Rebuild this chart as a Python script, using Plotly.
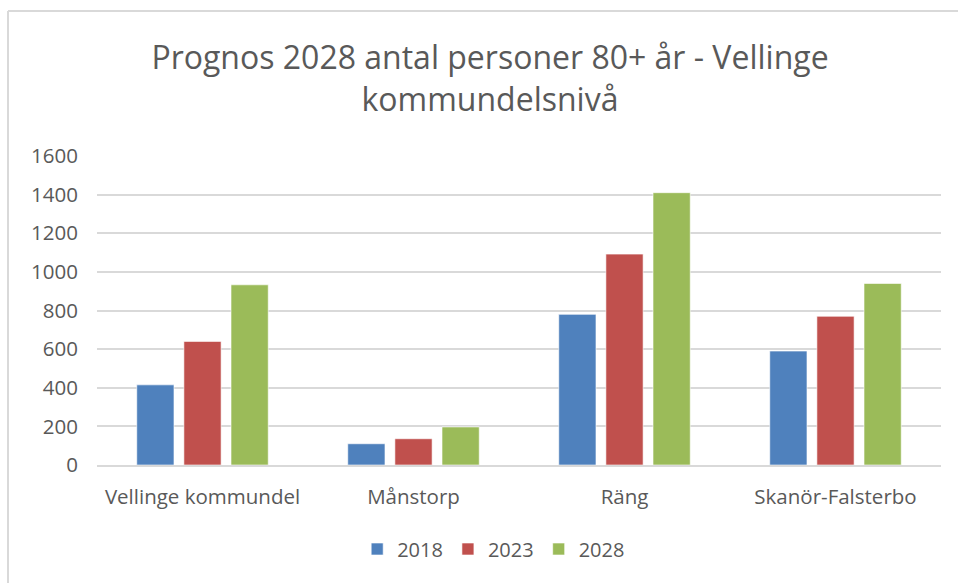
import plotly.graph_objects as go

categories = ["Vellinge kommundel", "Månstorp", "Räng", "Skanör-Falsterbo"]
series_names = ["2018", "2023", "2028"]
values_2018 = [415, 110, 780, 590]
values_2023 = [640, 136, 1092, 770]
values_2028 = [933, 197, 1410, 940]
colors = ["#4f81bd", "#c0504d", "#9bbb59"]
tick_vals = [0, 200, 400, 600, 800, 1000, 1200, 1400, 1600]

W, H = 958, 583
ml, mr, mt, mb = 97, 17, 156, 118
pw, ph = W - ml - mr, H - mt - mb

def px_to_paper_x(px):
    return (px - ml) / pw

def px_to_paper_y(py):
    return (H - mb - py) / ph

fig = go.Figure()
for name, vals, col in zip(series_names, [values_2018, values_2023, values_2028], colors):
    fig.add_trace(go.Bar(x=categories, y=vals, name=name,
                         marker=dict(color=col, line=dict(color="rgba(255,255,255,0.6)", width=1))))

font_family = "Open Sans, Noto Sans, sans-serif"
fig.update_layout(
    width=W, height=H,
    margin=dict(l=ml, r=mr, t=mt, b=mb),
    paper_bgcolor="white", plot_bgcolor="white",
    barmode="group", bargap=0.33, bargroupgap=0.21,
    title=dict(text="Prognos 2028 antal personer 80+ år - Vellinge<br>kommundelsnivå",
               x=490 / W, xref="container", xanchor="center",
               y=1 - 69 / H, yanchor="middle",
               font=dict(family=font_family, size=32, color="#595959")),
    font=dict(family=font_family, color="#595959"),
    xaxis=dict(showgrid=False, showline=True, linecolor="#d9d9d9", linewidth=2,
               ticks="", tickfont=dict(size=20.5, color="#595959"), ticklabelstandoff=12),
    yaxis=dict(range=[0, 1600], tickvals=tick_vals, showgrid=True, gridcolor="#d9d9d9",
               gridwidth=2, zeroline=False, showline=False, ticks="",
               tickfont=dict(size=20.5, color="#595959"), ticklabelstandoff=18),
    legend=dict(orientation="h", x=0.47, xanchor="center", y=px_to_paper_y(549), yanchor="middle",
                font=dict(size=20, color="#595959"), itemwidth=30,
                traceorder="normal"),
    showlegend=True,
)

# chart frame (top and left edges visible)
fig.add_shape(type="line", xref="paper", yref="paper",
              x0=px_to_paper_x(8), x1=px_to_paper_x(W + 5), y0=px_to_paper_y(11), y1=px_to_paper_y(11),
              line=dict(color="#d9d9d9", width=2))
fig.add_shape(type="line", xref="paper", yref="paper",
              x0=px_to_paper_x(8), x1=px_to_paper_x(8), y0=px_to_paper_y(11), y1=px_to_paper_y(H + 5),
              line=dict(color="#d9d9d9", width=2))

fig.write_html("out.html")
